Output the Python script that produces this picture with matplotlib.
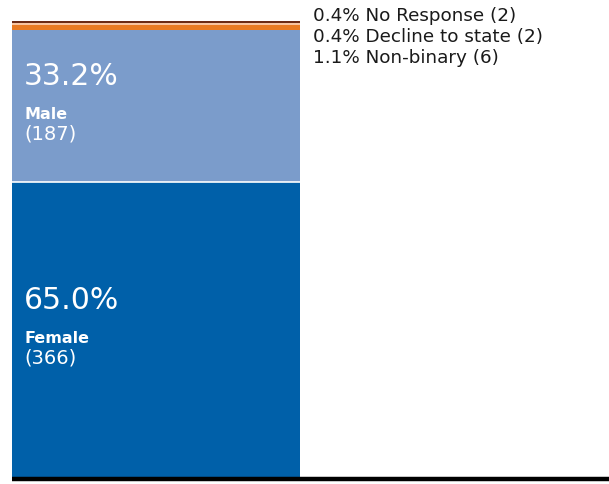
import matplotlib
matplotlib.use("Agg")
import matplotlib.pyplot as plt

plt.rcParams["font.family"] = ["DejaVu Sans"]

# gender breakdown, stacked bottom to top
categories = ["Female", "Male", "Non-binary", "Decline to state", "No Response"]
percents = [65.0, 33.2, 1.1, 0.4, 0.4]
counts = [366, 187, 6, 2, 2]
colors = ["#0060a9", "#7b9ccb", "#e87a22", "#f7c4a0", "#6b2a14"]

W, H, DPI = 609, 484, 100
fig = plt.figure(figsize=(W / DPI, H / DPI), dpi=DPI)
fig.patch.set_facecolor("white")

ax_left, ax_bottom = 12, 5
ax = fig.add_axes([ax_left / W, ax_bottom / H, 1 - ax_left / W, (H - ax_bottom) / H])
bar_px = 288
ax.set_xlim(0, (W - ax_left) / bar_px)
ax.set_ylim(0, 104.8)
ax.axis("off")

bottom = 0.0
tops = []
for cat, pct, col in zip(categories, percents, colors):
    ax.bar(0, pct, width=1, bottom=bottom, align="edge", color=col, linewidth=0)
    tops.append((bottom, bottom + pct))
    bottom += pct

# thin white separator between female and male
ax.plot([0, 1], [percents[0], percents[0]], color="white", lw=1.2, solid_capstyle="butt")

# baseline
ax.plot([0, (W - ax_left) / bar_px], [0, 0], color="black", lw=3.2, clip_on=False,
        solid_capstyle="butt")

# labels inside the two large segments
px = 0.72  # pixels -> points
for i in range(2):
    lo, hi = tops[i]
    mid = (lo + hi) / 2
    kw = dict(xycoords="data", textcoords="offset points", color="white",
              ha="left", va="center")
    ax.annotate(f"{percents[i]:.1f}%", (0, mid), xytext=(12 * px, 30 * px),
                fontsize=21.5, **kw)
    ax.annotate(categories[i], (0, mid), xytext=(12 * px, -8 * px),
                fontsize=11.5, fontweight="bold", **kw)
    ax.annotate(f"({counts[i]})", (0, mid), xytext=(12 * px, -28 * px),
                fontsize=14, **kw)

# small categories listed to the right, top first
for j, i in enumerate([4, 3, 2]):
    fig.text(313 / W, 1 - (16 + 21 * j) / H,
             f"{percents[i]:.1f}% {categories[i]} ({counts[i]})",
             fontsize=13.2, color="#1a1a1a", ha="left", va="center")

fig.savefig("out.png", dpi=DPI, facecolor="white")
